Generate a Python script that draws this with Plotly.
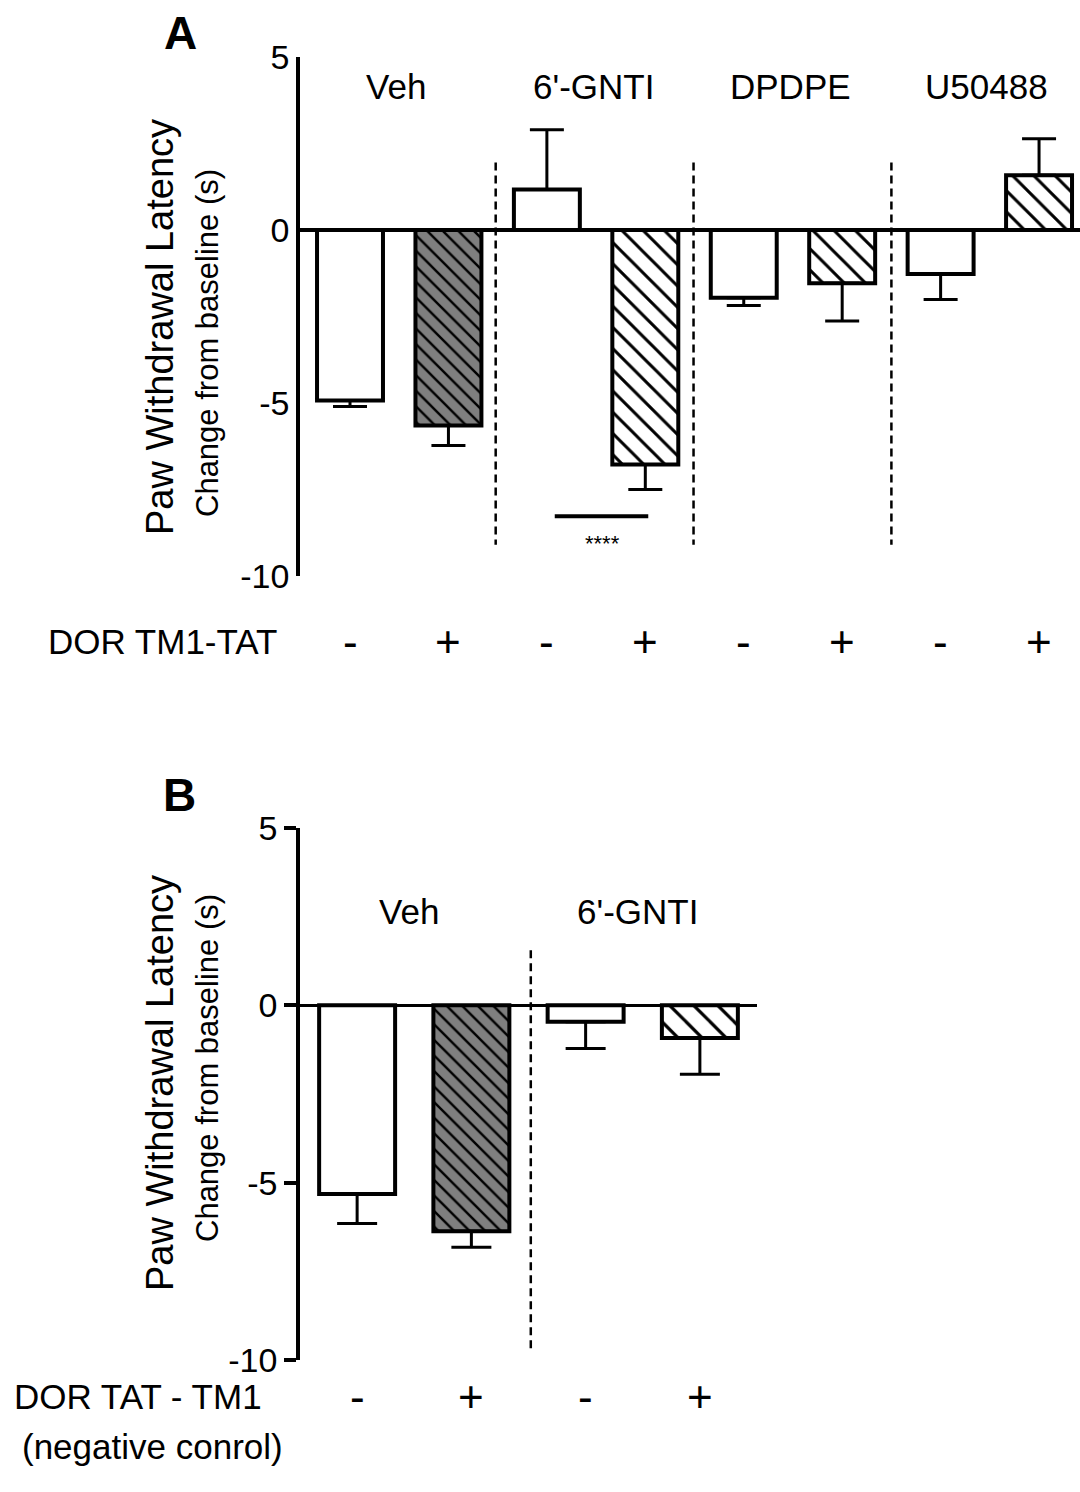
import plotly.graph_objects as go

# ---------------- data ----------------
groups_A = ["Veh", "6'-GNTI", "DPDPE", "U50488"]
tat_A = ["-", "+", "-", "+", "-", "+", "-", "+"]
means_A = [-4.93, -5.65, 1.17, -6.78, -1.96, -1.54, -1.27, 1.58]
sem_A = [0.17, 0.58, 1.73, 0.72, 0.22, 1.09, 0.74, 1.06]

groups_B = ["Veh", "6'-GNTI"]
tat_B = ["-", "+", "-", "+"]
means_B = [-5.32, -6.37, -0.46, -0.92]
sem_B = [0.83, 0.45, 0.76, 1.02]

ytick_vals = [-10, -5, 0, 5]
ytick_text = ["-10", "-5", "0", "5"]

FONT = "Liberation Sans, Arial, Helvetica, sans-serif"
W, H = 1080, 1492


def px_y(p):
    return 1 - p / H


def px_x(p):
    return p / W


def style_of(i, t):
    if t == "+" and i // 2 == 0:
        return "dark"
    if t == "+":
        return "hatch"
    return "plain"


def add_bars(fig, means, sems, tats, xa, ya, width, sizes, cap):
    for kind in ["plain", "dark", "hatch"]:
        idx = [i for i, t in enumerate(tats) if style_of(i, t) == kind]
        if not idx:
            continue
        ys = [means[i] for i in idx]
        plus = [sems[i] if means[i] > 0 else 0 for i in idx]
        minus = [sems[i] if means[i] < 0 else 0 for i in idx]
        if kind == "plain":
            marker = dict(color="white", line=dict(color="black", width=4))
        else:
            bg = "#7f7f7f" if kind == "dark" else "white"
            size, sol = sizes[kind]
            marker = dict(color=bg, line=dict(color="black", width=4),
                          pattern=dict(shape="\\", fgcolor="black", bgcolor=bg,
                                       size=size, solidity=sol, fillmode="replace"))
        fig.add_trace(go.Bar(
            x=idx, y=ys, width=width, xaxis=xa, yaxis=ya, marker=marker,
            error_y=dict(type="data", symmetric=False, array=plus, arrayminus=minus,
                         color="black", thickness=3, width=cap),
            showlegend=False, hoverinfo="skip"))


fig = go.Figure()
add_bars(fig, means_A, sem_A, tat_A, "x", "y", 0.67,
         {"dark": (11, 0.22), "hatch": (15, 0.2)}, 17)
add_bars(fig, means_B, sem_B, tat_B, "x2", "y2", 0.665,
         {"dark": (11, 0.22), "hatch": (17, 0.19)}, 20)

xaxis_common = dict(showline=False, showgrid=False, zeroline=False,
                    showticklabels=False, ticks="", fixedrange=True)
yaxis_common = dict(showline=True, linecolor="black", linewidth=3.5,
                    showgrid=False, zeroline=True, zerolinecolor="black",
                    range=[-10, 5], tickvals=ytick_vals, ticktext=ytick_text,
                    tickfont=dict(family=FONT, size=34, color="black"),
                    automargin=False)

fig.update_layout(
    width=W, height=H, margin=dict(l=0, r=0, t=0, b=0, pad=0, autoexpand=False),
    paper_bgcolor="white", plot_bgcolor="rgba(0,0,0,0)",
    font=dict(family=FONT, color="black"),
    barmode="overlay",
    xaxis=dict(domain=[px_x(300), 1.0], range=[-0.508, 7.416], anchor="y", **xaxis_common),
    yaxis=dict(domain=[px_y(576), px_y(57)], anchor="x", ticks="",
               zerolinewidth=4, **yaxis_common),
    xaxis2=dict(domain=[px_x(300), px_x(757)], range=[-0.5, 3.5], anchor="y2", **xaxis_common),
    yaxis2=dict(domain=[px_y(1360), px_y(828)], anchor="x2", ticks="outside",
                ticklen=12, tickwidth=3.5, tickcolor="black",
                zerolinewidth=3, **yaxis_common),
)

shapes = []
ann = []


def text(t, x, y, size, xref="paper", yref="paper", angle=0):
    ann.append(dict(text=t, x=x, y=y, xref=xref, yref=yref, showarrow=False,
                    xanchor="center", yanchor="middle", textangle=angle,
                    font=dict(size=size, family=FONT, color="black")))


# dashed separators
for xs in [1.48, 3.49, 5.5]:
    shapes.append(dict(type="line", xref="x", yref="y", x0=xs, x1=xs, y0=1.95, y1=-9.1,
                       line=dict(color="black", width=2.5, dash="8px,5px")))
shapes.append(dict(type="line", xref="x2", yref="y2", x0=1.52, x1=1.52, y0=1.55, y1=-9.8,
                   line=dict(color="black", width=2.5, dash="8px,5px")))

# significance bar in A
shapes.append(dict(type="line", xref="x", yref="y", x0=2.08, x1=3.03, y0=-8.27, y1=-8.27,
                   line=dict(color="black", width=4)))
text("****", 2.56, -9.05, 22, xref="x", yref="y")

# group labels
for g, lbl in enumerate(groups_A):
    text(lbl, 2 * g + 0.47, px_y(87), 35, xref="x")
for g, lbl in enumerate(groups_B):
    text(lbl, 2 * g + 0.45, px_y(911), 35, xref="x2")

# +/- signs
for i, t in enumerate(tat_A):
    text(t, i, px_y(641), 44, xref="x")
for i, t in enumerate(tat_B):
    text(t, i, px_y(1396), 44, xref="x2")

# row labels
text("DOR TM1-TAT", px_x(162), px_y(641), 35)
text("DOR TAT - TM1", px_x(138), px_y(1396), 35)
text("(negative conrol)", px_x(152), px_y(1446), 35)

# y-axis titles
for (cy1, cy2) in [(327, 343), (1083, 1068)]:
    text("Paw Withdrawal Latency", px_x(160), px_y(cy1), 38, angle=-90)
    text("Change from baseline (s)", px_x(207), px_y(cy2), 31, angle=-90)

# panel letters
text("<b>A</b>", px_x(180), px_y(33), 46)
text("<b>B</b>", px_x(179), px_y(795), 46)

fig.update_layout(shapes=shapes, annotations=ann)
fig.write_html("out.html", config={"displayModeBar": False},
               post_script="document.body.style.margin='0';document.body.style.overflow='hidden';")
